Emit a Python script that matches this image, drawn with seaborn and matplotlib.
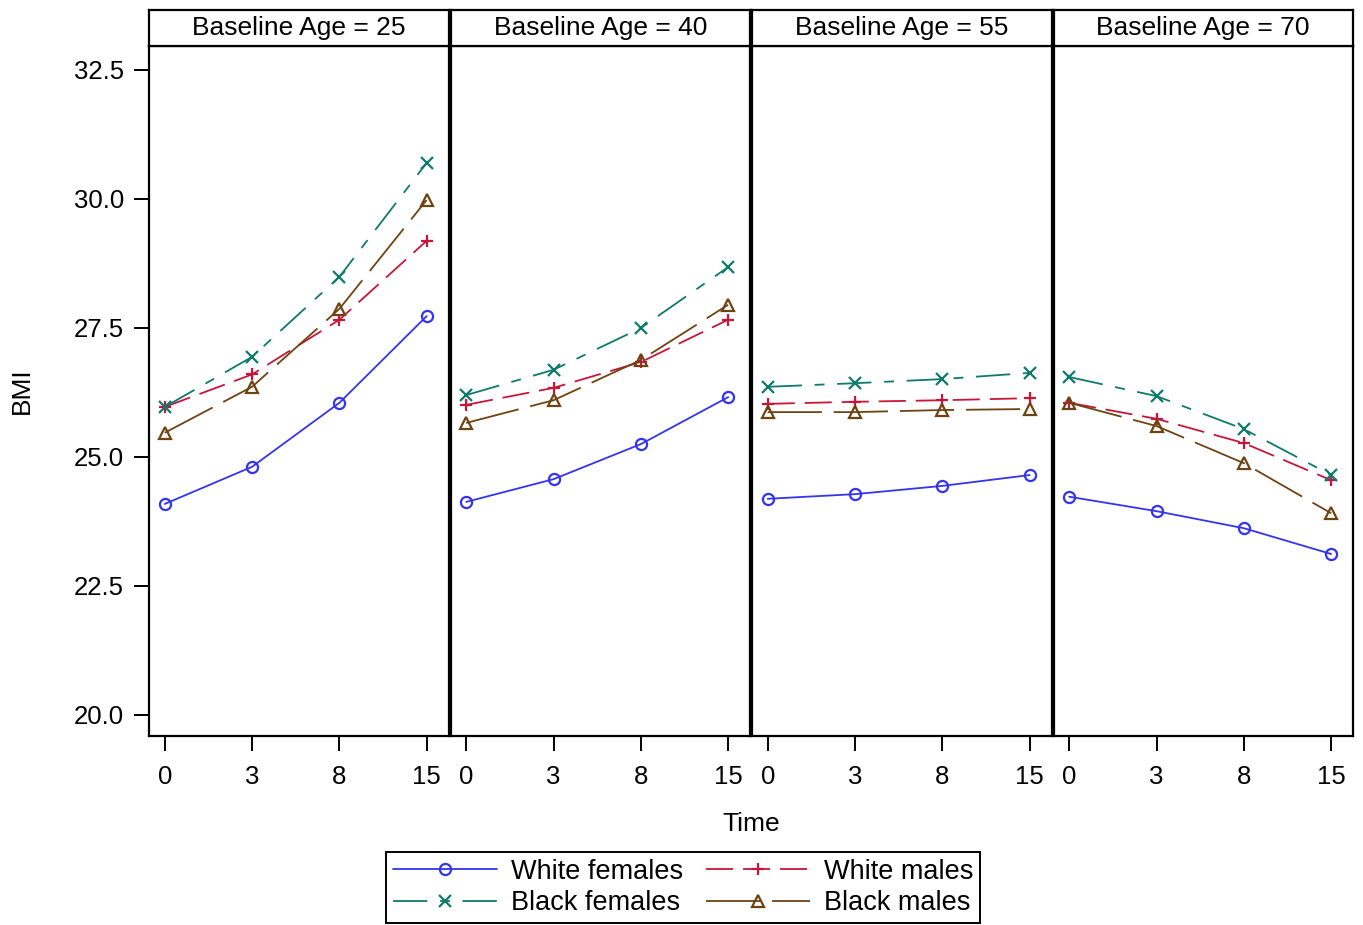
import pandas as pd
import matplotlib
matplotlib.use("Agg")
import matplotlib.pyplot as plt
import matplotlib.colors as mcolors
import seaborn as sns
from matplotlib.lines import Line2D

# --- data ---
ages = [25, 40, 55, 70]
times = ["0", "3", "8", "15"]
groups = ["White females", "White males", "Black females", "Black males"]

white_females = {25: [24.09, 24.81, 26.05, 27.73],
                 40: [24.13, 24.57, 25.25, 26.16],
                 55: [24.19, 24.28, 24.44, 24.65],
                 70: [24.23, 23.95, 23.62, 23.12]}
white_males = {25: [25.97, 26.60, 27.66, 29.19],
               40: [26.01, 26.34, 26.84, 27.66],
               55: [26.03, 26.07, 26.10, 26.14],
               70: [26.05, 25.74, 25.27, 24.55]}
black_females = {25: [25.97, 26.94, 28.49, 30.70],
                 40: [26.20, 26.69, 27.50, 28.68],
                 55: [26.36, 26.43, 26.51, 26.63],
                 70: [26.55, 26.18, 25.54, 24.65]}
black_males = {25: [25.47, 26.36, 27.87, 29.98],
               40: [25.66, 26.10, 26.88, 27.95],
               55: [25.87, 25.87, 25.91, 25.93],
               70: [26.05, 25.60, 24.88, 23.91]}

colors = {"White females": "#3434EE", "White males": "#C8163A",
          "Black females": "#0E7A6C", "Black males": "#6E4312"}
markers = {"White females": "o", "White males": "+",
           "Black females": "x", "Black males": "^"}
dashes = {"White females": "", "White males": (15, 5.5),
          "Black females": (19, 7, 5.5, 7), "Black males": (30, 6.6)}

rows = []
for g, table in zip(groups, [white_females, white_males, black_females, black_males]):
    for a in ages:
        for t, v in zip(times, table[a]):
            rows.append({"Group": g, "Age": a, "Time": t, "BMI": v})
df = pd.DataFrame(rows)

# --- plotting ---
sns.set_theme(style="ticks")
plt.rcParams["font.family"] = ["Liberation Sans", "DejaVu Sans"]
plt.rcParams["text.color"] = "black"
plt.rcParams["legend.labelcolor"] = "black"

W, H = 1363, 925
fig = plt.figure(figsize=(W / 100, H / 100), dpi=100)
bottom, top = 1 - 736 / H, 1 - 46 / H
head_h = 36 / H
x0, step, pw_px = 149, 301.5, 299.5

color_to_group = {mcolors.to_hex(c): g for g, c in colors.items()}

lw_frame = 1.6
lw_data = 1.3
for i, a in enumerate(ages):
    ax_left = (x0 + i * step) / W
    ax = fig.add_axes([ax_left, bottom, pw_px / W, top - bottom])
    sub = df[df["Age"] == a]
    sns.lineplot(data=sub, x="Time", y="BMI", hue="Group", style="Group",
                 hue_order=groups, style_order=groups, palette=colors,
                 dashes=dashes, linewidth=lw_data, legend=False, ax=ax)
    # seaborn won't mix filled and line-art markers, so set them afterwards
    for line in ax.lines:
        g = color_to_group.get(mcolors.to_hex(line.get_color()))
        if g is None:
            continue
        line.set_marker(markers[g])
        line.set_markersize(8)
        line.set_markeredgecolor(colors[g])
        line.set_markerfacecolor("none")
        line.set_markeredgewidth(1.6)
    ax.set_xlim(-0.18, 3.25)
    ax.set_ylim(19.593, 32.965)
    ax.set_yticks([20, 22.5, 25, 27.5, 30, 32.5])
    ax.set_xlabel("")
    ax.set_ylabel("")
    for s in ax.spines.values():
        s.set_visible(True)
        s.set_color("black")
        s.set_linewidth(lw_frame)
    ax.tick_params(axis="x", length=11, width=1.4, pad=10, labelsize=18.5, colors="black")
    if i == 0:
        ax.tick_params(axis="y", length=11, width=1.4, pad=7, labelsize=18.5, colors="black")
        ax.set_yticklabels(["20.0", "22.5", "25.0", "27.5", "30.0", "32.5"])
    else:
        ax.tick_params(axis="y", left=False, labelleft=False)

    # strip header
    hax = fig.add_axes([ax_left, top, pw_px / W, head_h])
    hax.set_xticks([])
    hax.set_yticks([])
    for s in hax.spines.values():
        s.set_color("black")
        s.set_linewidth(lw_frame)
    hax.text(0.5, 0.5, f"Baseline Age = {a}", ha="center", va="center",
             fontsize=19, color="black", transform=hax.transAxes)

center_x = (x0 + (x0 + 3 * step + pw_px)) / 2 / W
fig.text(center_x, 1 - 824 / H, "Time", ha="center", va="center", fontsize=19, color="black")
fig.text(22 / W, 1 - 391 / H, "BMI", ha="center", va="center", rotation=90,
         fontsize=19, color="black")

# legend, row-wise order: WF, WM / BF, BM
handles = []
for g in groups:
    h = Line2D([], [], color=colors[g], marker=markers[g], markersize=8,
               markerfacecolor="none", markeredgecolor=colors[g],
               markeredgewidth=1.6, linewidth=lw_data)
    if dashes[g]:
        h.set_dashes(dashes[g])
    handles.append(h)
order = [0, 2, 1, 3]
leg = fig.legend([handles[k] for k in order], [groups[k] for k in order],
                 loc="center", bbox_to_anchor=(683 / W, 1 - 887.5 / H), ncol=2,
                 fontsize=19.5, handlelength=3.85, handletextpad=0.5,
                 columnspacing=0.85, labelspacing=0.2, borderpad=0.25,
                 borderaxespad=0, fancybox=False, framealpha=1, edgecolor="black")
leg.get_frame().set_linewidth(1.4)

fig.savefig("out.png", dpi=100)
plt.close(fig)
